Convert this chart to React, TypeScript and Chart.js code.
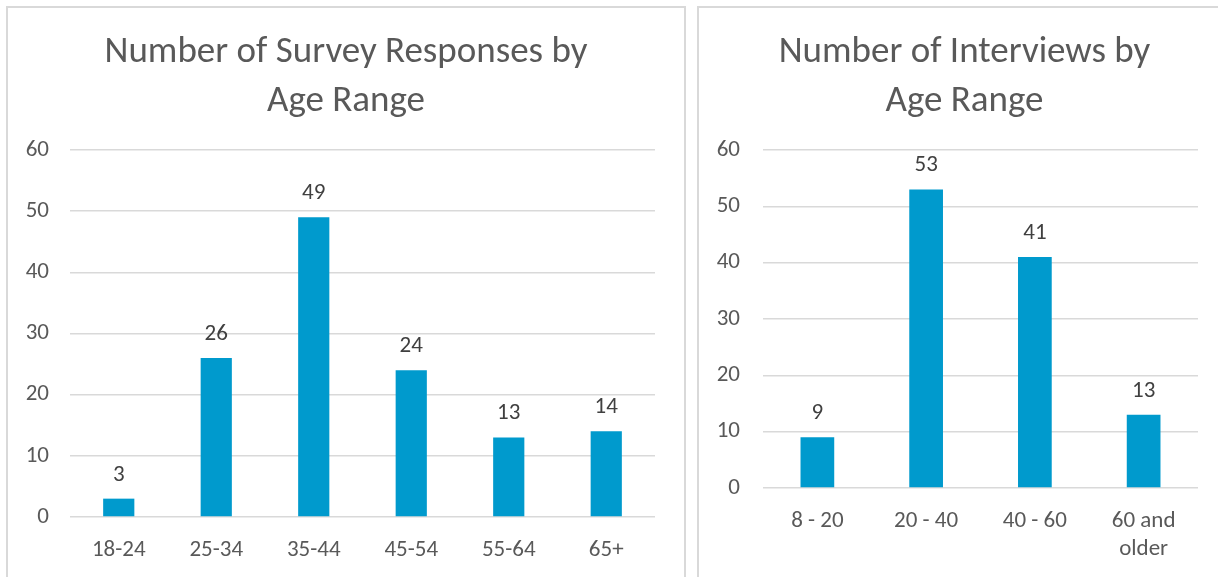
import React, { useEffect, useRef } from "react";
import { Chart, registerables } from "chart.js";

Chart.register(...registerables);

const surveyTitle = ["Number of Survey Responses by", "Age Range"];
const surveyCategories = ["18-24", "25-34", "35-44", "45-54", "55-64", "65+"];
const surveyValues = [3, 26, 49, 24, 13, 14];

const interviewTitle = ["Number of Interviews by", "Age Range"];
const interviewCategories: (string | string[])[] = ["8 - 20", "20 - 40", "40 - 60", ["60 and", "older"]];
const interviewValues = [9, 53, 41, 13];

const yMin = 0;
const yMax = 60;
const yStep = 10;

const FONT = 'Carlito, Calibri, Lato, "Open Sans", sans-serif';
const BAR_COLOR = "#009ACD";
const TEXT_COLOR = "#595959";
const LABEL_COLOR = "#404040";
const GRID_COLOR = "#d9d9d9";

const dataLabelPlugin = {
  id: "dataLabels",
  afterDatasetsDraw(chart: any) {
    const ctx = chart.ctx;
    const meta = chart.getDatasetMeta(0);
    const data = chart.data.datasets[0].data;
    ctx.save();
    ctx.font = `23px ${FONT}`;
    ctx.fillStyle = LABEL_COLOR;
    ctx.textAlign = "center";
    ctx.textBaseline = "alphabetic";
    meta.data.forEach((bar: any, i: number) => {
      ctx.fillText(String(data[i]), bar.x, bar.y - 18);
    });
    ctx.restore();
  },
};

const titlePlugin = {
  id: "centerTitle",
  afterDraw(chart: any, _args: any, opts: any) {
    const ctx = chart.ctx;
    const lines: string[] = opts.text || [];
    ctx.save();
    ctx.font = `37px ${FONT}`;
    ctx.fillStyle = TEXT_COLOR;
    ctx.textAlign = "center";
    ctx.textBaseline = "alphabetic";
    lines.forEach((line, i) => {
      ctx.fillText(line, chart.width / 2, opts.baseline + i * opts.lineGap);
    });
    ctx.restore();
  },
};

type Props = {
  title: string[];
  labels: (string | string[])[];
  values: number[];
  barPct: number;
  yWidth: number;
  yPad: number;
  padRight: number;
  padBottom: number;
  width: number;
  height: number;
};

function BarChart(p: Props) {
  const ref = useRef<HTMLCanvasElement | null>(null);
  useEffect(() => {
    if (!ref.current) return;
    const chart = new Chart(ref.current, {
      type: "bar",
      data: {
        labels: p.labels as any,
        datasets: [
          {
            data: p.values,
            backgroundColor: BAR_COLOR,
            barPercentage: p.barPct,
            categoryPercentage: 1,
          },
        ],
      },
      options: {
        animation: false,
        responsive: false,
        maintainAspectRatio: false,
        layout: { padding: { left: 0, right: p.padRight, top: 142, bottom: p.padBottom } },
        plugins: {
          legend: { display: false },
          tooltip: { enabled: false },
          title: { display: false },
          centerTitle: { text: p.title, baseline: 54, lineGap: 48.5 },
        },
        scales: {
          x: {
            grid: { display: false, drawTicks: false },
            border: { display: false },
            ticks: {
              color: TEXT_COLOR,
              font: { family: FONT, size: 23, lineHeight: 1.217 },
              padding: 19,
              maxRotation: 0,
              autoSkip: false,
            },
            afterFit: (scale: any) => {
              scale.height = 80;
            },
          },
          y: {
            min: yMin,
            max: yMax,
            grid: { color: GRID_COLOR, lineWidth: 1.5, drawTicks: false },
            border: { display: false },
            ticks: {
              stepSize: yStep,
              color: TEXT_COLOR,
              font: { family: FONT, size: 23 },
              padding: p.yPad,
            },
            afterFit: (scale: any) => {
              scale.width = p.yWidth;
            },
          },
        },
      } as any,
      plugins: [dataLabelPlugin, titlePlugin],
    });
    return () => chart.destroy();
  }, []);
  return <canvas ref={ref} width={p.width} height={p.height} style={{ display: "block", width: p.width, height: p.height }} />;
}

export default function App() {
  const box: React.CSSProperties = {
    position: "absolute",
    top: 6,
    border: `2px solid ${GRID_COLOR}`,
    background: "#fff",
    boxSizing: "content-box",
  };
  return (
    <div style={{ position: "absolute", left: 0, top: 0, width: 1218, height: 577, overflow: "hidden", background: "#fff" }}>
      <div style={{ ...box, left: 6, width: 676, height: 620 }}>
        <BarChart
          title={surveyTitle}
          labels={surveyCategories}
          values={surveyValues}
          barPct={0.32}
          yWidth={62}
          yPad={21}
          padRight={29}
          padBottom={11}
          width={676}
          height={600}
        />
      </div>
      <div style={{ ...box, left: 697, width: 531, height: 620 }}>
        <BarChart
          title={interviewTitle}
          labels={interviewCategories}
          values={interviewValues}
          barPct={0.31}
          yWidth={64}
          yPad={23}
          padRight={32}
          padBottom={40}
          width={531}
          height={600}
        />
      </div>
    </div>
  );
}
